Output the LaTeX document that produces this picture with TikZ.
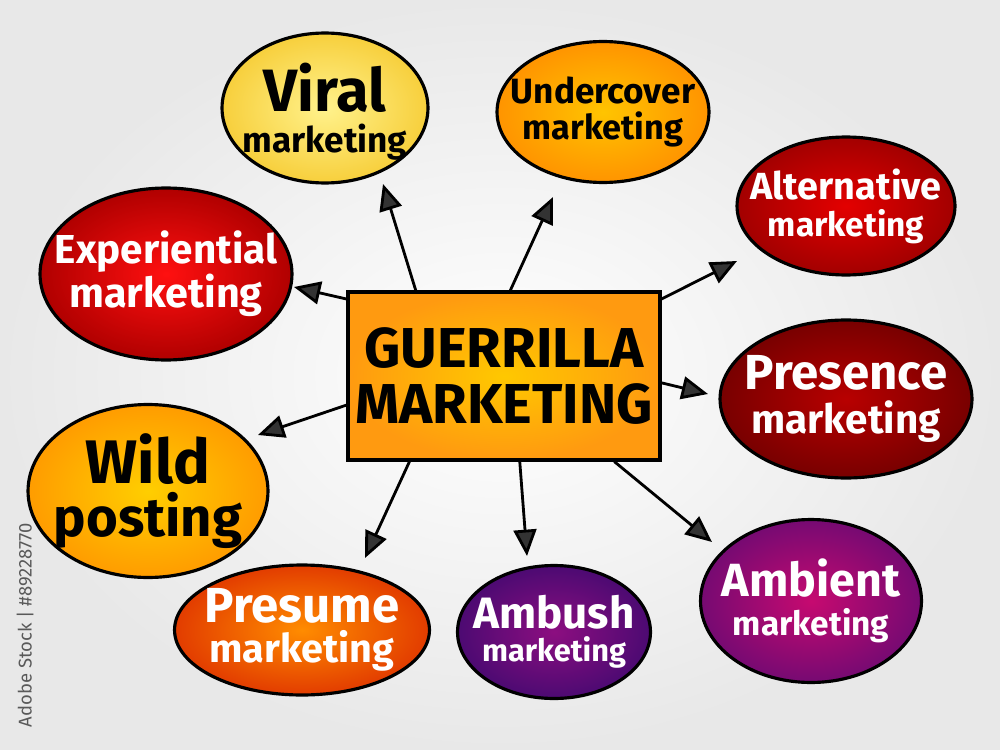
\documentclass[tikz,border=0pt]{standalone}
\usepackage{fontspec}
\setmainfont{Fira Sans}
\usetikzlibrary{shapes.geometric,arrows.meta,calc}

\definecolor{viralIn}{HTML}{FFF28C}
\definecolor{viralOut}{HTML}{F7CF3C}
\definecolor{underIn}{HTML}{FFC400}
\definecolor{underOut}{HTML}{FF9400}
\definecolor{altIn}{HTML}{E30000}
\definecolor{altOut}{HTML}{A20000}
\definecolor{expIn}{HTML}{FF1010}
\definecolor{expOut}{HTML}{B00000}
\definecolor{presIn}{HTML}{B80000}
\definecolor{presOut}{HTML}{780000}
\definecolor{wildIn}{HTML}{FFCE00}
\definecolor{wildOut}{HTML}{FF9C00}
\definecolor{presuIn}{HTML}{FF8C00}
\definecolor{presuOut}{HTML}{E23C00}
\definecolor{ambuIn}{HTML}{8C0E80}
\definecolor{ambuOut}{HTML}{4C0A72}
\definecolor{ambiIn}{HTML}{C60A70}
\definecolor{ambiOut}{HTML}{760A72}
\definecolor{boxIn}{HTML}{FFC800}
\definecolor{boxOut}{HTML}{FF9A10}

\newcommand\fsz[1]{\fontsize{#1}{#1}\selectfont}

\tikzset{
	bub/.style 2 args={ellipse, draw=black, line width=1.8pt, inner sep=0pt, inner color=#1, outer color=#2},
	lbl/.style={align=center, text=white, inner sep=0pt},
	dlbl/.style={lbl, text=black},
	arr/.style={line width=1.6pt, -{Triangle[length=15pt,width=13pt,fill=black!80]}},
}

\begin{document}
\begin{tikzpicture}[x=0.02cm, y=-0.02cm]
	% background
	\shade[inner color=white, outer color=black!9] (0,0) rectangle (1000,750);
	\useasboundingbox (0,0) rectangle (1000,750);
	
	% centre
	\node[rectangle, draw=black, line width=1.8pt, inner color=boxIn, outer color=boxOut, minimum width=6.24cm, minimum height=3.36cm] (gm) at (504,376) {};
	\node[dlbl, font=\bfseries\fontsize{32}{32}\selectfont] (gmT) at (gm) {GUERRILLA\\MARKETING};
	
	% bubbles
	\node[bub={viralIn}{viralOut}, minimum width=4.12cm, minimum height=3cm] (viral) at (325,108) {};
	\node[dlbl, font=\bfseries\fontsize{20}{23}\selectfont] (viralT) at ([yshift=-2pt]viral) {{\fsz{34}Viral}\\marketing};
	
	\node[bub={underIn}{underOut}, minimum width=4.24cm, minimum height=2.82cm] (under) at (603,112) {};
	\node[dlbl, font=\bfseries\fontsize{19.5}{20}\selectfont] (underT) at (under) {{\fsz{20}Undercover}\\marketing};
	
	\node[bub={altIn}{altOut}, minimum width=4.36cm, minimum height=2.76cm] (alt) at (846,206) {};
	\node[lbl, font=\bfseries\fontsize{19}{21}\selectfont] (altT) at (alt) {{\fsz{21.5}Alternative}\\marketing};
	
	\node[bub={expIn}{expOut}, minimum width=5.04cm, minimum height=3.44cm] (exp) at (166,274) {};
	\node[lbl, font=\bfseries\fontsize{23.5}{20}\selectfont] (expT) at (exp) {{\fsz{23}Experiential}\\marketing};
	
	\node[bub={presIn}{presOut}, minimum width=5.04cm, minimum height=3.16cm] (pres) at (846,399) {};
	\node[lbl, font=\bfseries\fontsize{23}{25}\selectfont] (presT) at (pres) {{\fsz{28}Presence}\\marketing};
	
	\node[bub={wildIn}{wildOut}, minimum width=4.8cm, minimum height=3.46cm] (wild) at (148,491) {};
	\node[dlbl, font=\bfseries\fontsize{31}{30}\selectfont] (wildT) at (wild) {{\fsz{35}Wild}\\posting};
	
	\node[bub={presuIn}{presuOut}, minimum width=5.1cm, minimum height=2.6cm] (presu) at (302,630) {};
	\node[lbl, font=\bfseries\fontsize{22.5}{23}\selectfont] (presuT) at (presu) {{\fsz{28}Presume}\\marketing};
	
	\node[bub={ambuIn}{ambuOut}, minimum width=3.86cm, minimum height=2.66cm] (ambu) at (554,632) {};
	\node[lbl, font=\bfseries\fontsize{17.5}{19}\selectfont] (ambuT) at (ambu) {{\fsz{25}Ambush}\\marketing};
	
	\node[bub={ambiIn}{ambiOut}, minimum width=4.42cm, minimum height=3.26cm] (ambi) at (811,601) {};
	\node[lbl, font=\bfseries\fontsize{19}{22}\selectfont] (ambiT) at (ambi) {{\fsz{26.5}Ambient}\\marketing};
	
	% arrow tips
	\coordinate (tViral) at (383,184);
	\coordinate (tUnder) at (553,197);
	\coordinate (tAlt) at (737,261);
	\coordinate (tPres) at (708,394);
	\coordinate (tAmbi) at (712,542);
	\coordinate (tAmbu) at (527,556);
	\coordinate (tPresu) at (365,558);
	\coordinate (tWild) at (258,435);
	\coordinate (tExp) at (294,287);
	
	\draw[arr] ($(gm.north west)!0.22!(gm.north east)$) -- (tViral);
	\draw[arr] ($(gm.north west)!0.52!(gm.north east)$) -- (tUnder);
	\draw[arr] ($(gm.north east)!0.05!(gm.south east)$) -- (tAlt);
	\draw[arr] ($(gm.north east)!0.54!(gm.south east)$) -- (tPres);
	\draw[arr] ($(gm.south west)!0.85!(gm.south east)$) -- (tAmbi);
	\draw[arr] ($(gm.south west)!0.55!(gm.south east)$) -- (tAmbu);
	\draw[arr] ($(gm.south west)!0.2!(gm.south east)$) -- (tPresu);
	\draw[arr] ($(gm.north west)!0.67!(gm.south west)$) -- (tWild);
	\draw[arr] ($(gm.north west)!0.05!(gm.south west)$) -- (tExp);
	
	% stock mark
	\node[rotate=90, text=black!65, font=\fontsize{10.5}{12}\selectfont] (stock) at (25,625) {Adobe Stock | \#89228770};
\end{tikzpicture}
\end{document}
